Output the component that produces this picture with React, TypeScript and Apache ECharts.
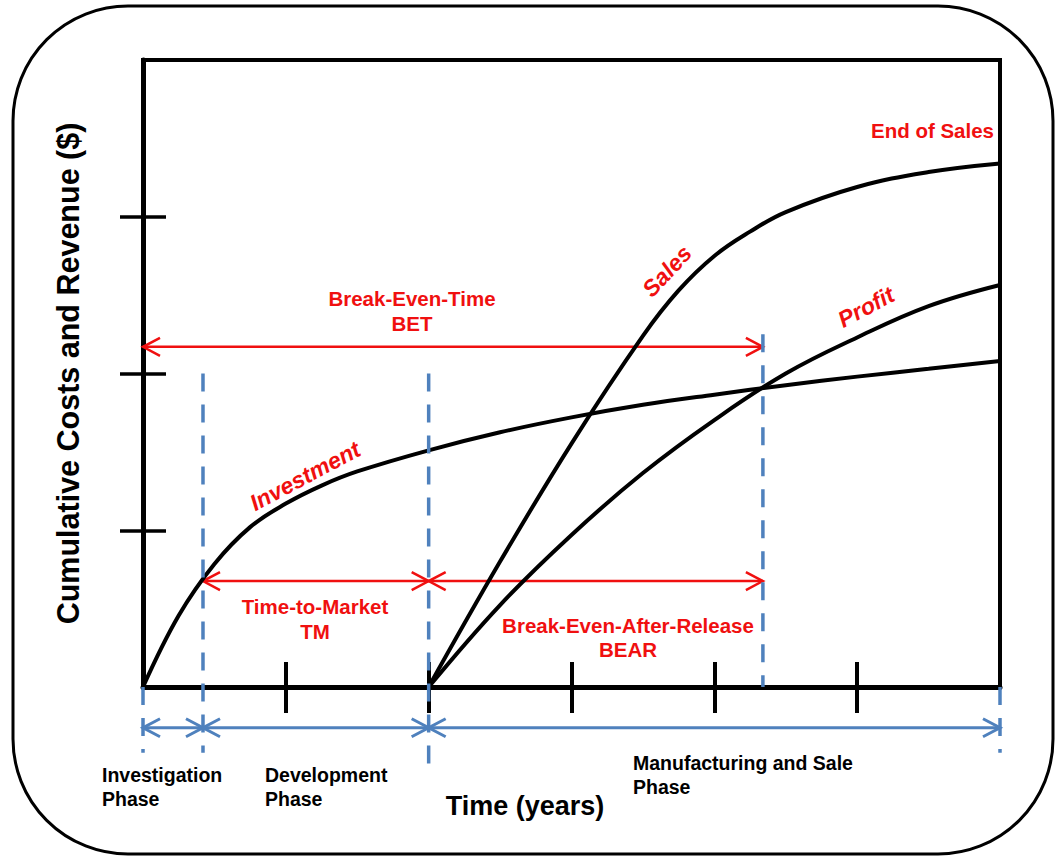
import React, { useEffect, useRef } from "react";
import * as echarts from "echarts";

// Axis ticks (years / cost units)
const xTicks = [1, 2, 3, 4, 5];
const yTicks = [1, 2, 3];

// Curves: [time (years), cumulative value]
const investment = [
  [0, 0], [0.25, 0.456], [0.5, 0.785], [0.75, 1.02], [1, 1.17], [1.25, 1.285], [1.5, 1.375],
  [2, 1.51], [2.5, 1.625], [3, 1.72], [3.5, 1.8], [4, 1.865], [4.5, 1.925], [5, 1.98], [5.5, 2.03], [6, 2.08],
];
const sales = [
  [2, 0], [2.5, 0.8], [3, 1.553], [3.5, 2.24], [3.75, 2.53], [4, 2.75], [4.25, 2.905],
  [4.5, 3.03], [5, 3.19], [5.5, 3.285], [6, 3.34],
];
const profit = [
  [2, 0], [2.5, 0.523], [3, 0.97], [3.5, 1.365], [4, 1.703], [4.5, 2.0], [5, 2.23], [5.5, 2.43], [6, 2.565],
];

// Milestone guide lines: [time, top value, bottom value]
const guideLines = [
  [0.42, 2.0, -0.42],
  [2, 2.0, -0.5],
  [4.34, 2.25, 0],
  [0, 0, -0.42],
  [6, 0, -0.42],
];
// Red interval arrows: [from time, to time, level]
const redArrows = [
  [0, 4.34, 2.17],
  [0.42, 2, 0.676],
  [2, 4.34, 0.676],
];
// Blue phase arrows: [from time, to time, level]
const blueArrows = [
  [0, 0.42, -0.26],
  [0.42, 2, -0.26],
  [2, 6, -0.26],
];

const RED = "#f01010";
const BLUE = "#4f81bd";
const FONT = "'Liberation Sans', Arial, sans-serif";

function arrowRenderer(color: string, width: number) {
  return (params: any, api: any) => {
    const a = api.coord([api.value(0), api.value(2)]);
    const b = api.coord([api.value(1), api.value(2)]);
    const h = 17;
    const w = 9;
    const st = { stroke: color, lineWidth: width, fill: "none" };
    return {
      type: "group",
      children: [
        { type: "line", shape: { x1: a[0], y1: a[1], x2: b[0], y2: b[1] }, style: st },
        { type: "polyline", shape: { points: [[a[0] + h, a[1] - w], [a[0], a[1]], [a[0] + h, a[1] + w]] }, style: st },
        { type: "polyline", shape: { points: [[b[0] - h, b[1] - w], [b[0], b[1]], [b[0] - h, b[1] + w]] }, style: st },
      ],
    };
  };
}

function guideRenderer(params: any, api: any) {
  const a = api.coord([api.value(0), api.value(1)]);
  const b = api.coord([api.value(0), api.value(2)]);
  return {
    type: "line",
    shape: { x1: a[0], y1: a[1], x2: b[0], y2: b[1] },
    style: { stroke: BLUE, lineWidth: 3.5, lineDash: [18, 13] },
  };
}

function txt(text: string, x: number, y: number, opts: any = {}) {
  const align = opts.align || "center";
  return {
    type: "text",
    x,
    y,
    rotation: opts.rotation || 0,
    z: 50,
    style: {
      text,
      fill: opts.color || "#000",
      font: `${opts.italic ? "italic " : ""}bold ${opts.size || 20}px ${FONT}`,
      lineHeight: opts.lineHeight || 25,
      align,
      textAlign: align,
      verticalAlign: "middle",
      textVerticalAlign: "middle",
    },
  };
}

export default function App() {
  const ref = useRef<HTMLDivElement>(null);
  useEffect(() => {
    if (!ref.current) return;
    const chart = echarts.init(ref.current, undefined, { renderer: "svg" });
    const tickStyle = { color: "#000", width: 4 };
    const deg = Math.PI / 180;
    const curveStyle = { color: "#000", width: 4 };
    chart.setOption({
      animation: false,
      backgroundColor: "#fff",
      grid: { left: 143, right: 57, top: 60, bottom: 171, show: true, borderColor: "#000", borderWidth: 4 },
      xAxis: [
        {
          type: "value", min: 0, max: 6, position: "bottom",
          axisLine: { show: true, onZero: false, lineStyle: { color: "#000", width: 5 } },
          axisTick: { show: true, customValues: xTicks, length: 26, inside: false, lineStyle: tickStyle },
          axisLabel: { show: false }, splitLine: { show: false },
        },
        {
          type: "value", min: 0, max: 6, position: "bottom",
          axisLine: { show: false },
          axisTick: { show: true, customValues: xTicks, length: 25, inside: true, lineStyle: tickStyle },
          axisLabel: { show: false }, splitLine: { show: false },
        },
      ],
      yAxis: [
        {
          type: "value", min: 0, max: 4, position: "left",
          name: "Cumulative Costs and Revenue ($)",
          nameLocation: "middle", nameGap: 60,
          nameTextStyle: { fontFamily: FONT, fontWeight: "bold", fontSize: 30.5, color: "#000" },
          axisLine: { show: true, onZero: false, lineStyle: { color: "#000", width: 5 } },
          axisTick: { show: true, customValues: yTicks, length: 23, inside: false, lineStyle: { color: "#000", width: 3.5 } },
          axisLabel: { show: false }, splitLine: { show: false },
        },
        {
          type: "value", min: 0, max: 4, position: "left",
          axisLine: { show: false },
          axisTick: { show: true, customValues: yTicks, length: 23, inside: true, lineStyle: { color: "#000", width: 3.5 } },
          axisLabel: { show: false }, splitLine: { show: false },
        },
      ],
      series: [
        {
          type: "custom", name: "redArrows", coordinateSystem: "cartesian2d", clip: false, z: 3,
          renderItem: arrowRenderer(RED, 2.5), data: redArrows, encode: { x: [0, 1], y: 2 },
        },
        {
          type: "line", name: "Investment", data: investment, smooth: 0.4,
          showSymbol: false, z: 4, lineStyle: curveStyle,
        },
        {
          type: "line", name: "Sales", data: sales, smooth: 0.4,
          showSymbol: false, z: 4, lineStyle: curveStyle,
        },
        {
          type: "line", name: "Profit", data: profit, smooth: 0.4,
          showSymbol: false, z: 4, lineStyle: curveStyle,
        },
        {
          type: "custom", name: "guides", coordinateSystem: "cartesian2d", clip: false, z: 5,
          renderItem: guideRenderer, data: guideLines, encode: { x: 0, y: [1, 2] },
        },
        {
          type: "custom", name: "blueArrows", coordinateSystem: "cartesian2d", clip: false, z: 5,
          renderItem: arrowRenderer(BLUE, 3), data: blueArrows, encode: { x: [0, 1], y: 2 },
        },
      ],
      graphic: [
        {
          type: "rect", z: -10,
          shape: { x: 13, y: 6, width: 1040, height: 848, r: 115 },
          style: { fill: "none", stroke: "#000", lineWidth: 3 },
        },
        txt("Break-Even-Time\nBET", 412, 311, { color: RED, size: 20.5 }),
        txt("Time-to-Market\nTM", 315, 619, { color: RED, size: 20.5 }),
        txt("Break-Even-After-Release\nBEAR", 628, 637, { color: RED, size: 20.5, lineHeight: 24 }),
        txt("End of Sales", 994, 130, { color: RED, align: "right", size: 20.5 }),
        txt("Investment", 305, 476, { color: RED, italic: true, size: 23, rotation: 28 * deg }),
        txt("Sales", 667, 271, { color: RED, italic: true, size: 23, rotation: 47 * deg }),
        txt("Profit", 866, 307, { color: RED, italic: true, size: 23, rotation: 28 * deg }),
        txt("Investigation\nPhase", 102, 787, { size: 19.5, align: "left", lineHeight: 24 }),
        txt("Development\nPhase", 265, 787, { size: 19.5, align: "left", lineHeight: 24 }),
        txt("Manufacturing and Sale\nPhase", 633, 775, { size: 19.5, align: "left", lineHeight: 24 }),
        txt("Time (years)", 525, 806, { size: 27 }),
      ],
    });
    return () => chart.dispose();
  }, []);
  return (
    <div
      ref={ref}
      style={{ position: "fixed", left: 0, top: 0, width: 1057, height: 858, background: "#fff" }}
    />
  );
}
